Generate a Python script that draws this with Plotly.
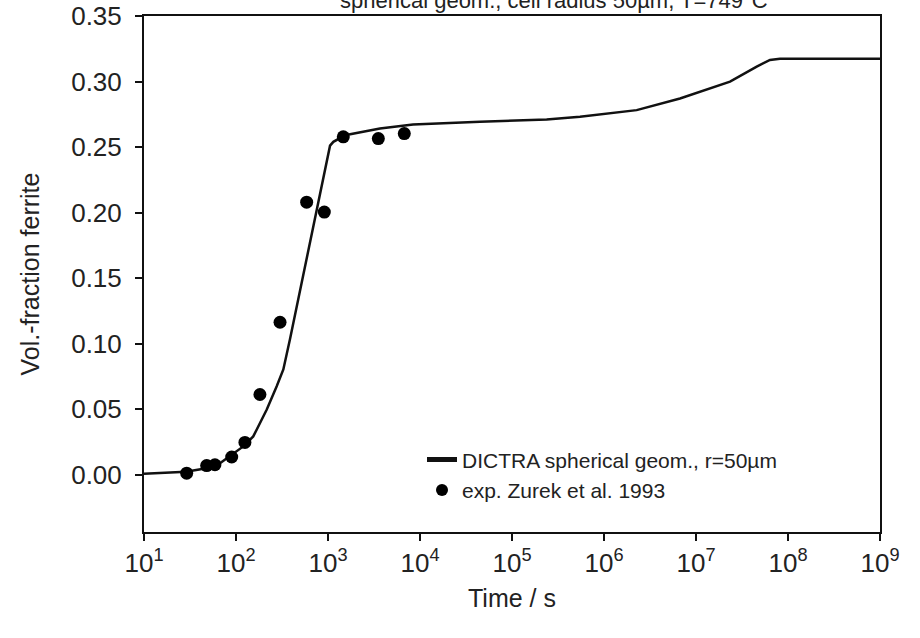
import plotly.graph_objects as go

# DICTRA simulation: time (s) vs. ferrite volume fraction
sim_time = [10, 28.6, 59.2, 120, 154, 216, 277, 327, 386, 1052, 1143, 1531,
            3673, 8395, 44870, 238000, 548000, 2265000, 6700000, 23440000,
            45700000, 63680000, 81850000, 1e9]
sim_frac = [0.0008, 0.0023, 0.0061, 0.0217, 0.0293, 0.0498, 0.0676, 0.0804,
            0.1034, 0.2511, 0.2540, 0.2590, 0.2642, 0.2672, 0.2693, 0.2711,
            0.2731, 0.2782, 0.2871, 0.2999, 0.3114, 0.3165, 0.3174, 0.3174]

# Measured ferrite fraction (Zurek et al. 1993)
exp_time = [29.1, 48, 59, 89.8, 125, 182, 301, 586, 912, 1466, 3524, 6748]
exp_frac = [0.0013, 0.0071, 0.0077, 0.0136, 0.0247, 0.0613, 0.1164, 0.208,
            0.2004, 0.2578, 0.2565, 0.2603]

x_tickvals = [1e1, 1e2, 1e3, 1e4, 1e5, 1e6, 1e7, 1e8, 1e9]
x_ticktext = ["10<sup>1</sup>", "10<sup>2</sup>", "10<sup>3</sup>", "10<sup>4</sup>",
              "10<sup>5</sup>", "10<sup>6</sup>", "10<sup>7</sup>", "10<sup>8</sup>",
              "10<sup>9</sup>"]
y_tickvals = [0.00, 0.05, 0.10, 0.15, 0.20, 0.25, 0.30, 0.35]

FONT = "Liberation Sans, Arial, sans-serif"
INK = "#222222"

fig = go.Figure()
fig.add_trace(go.Scatter(
    x=sim_time, y=sim_frac, mode="lines",
    line=dict(color="#111111", width=2.5),
    name="DICTRA spherical geom., r=50\u00b5m",
))
fig.add_trace(go.Scatter(
    x=exp_time, y=exp_frac, mode="markers",
    marker=dict(color="#000000", size=13),
    name="exp. Zurek et al. 1993",
))

fig.update_layout(
    width=920, height=638,
    margin=dict(l=144, r=40, t=16, b=106, autoexpand=False),
    paper_bgcolor="white", plot_bgcolor="white",
    font=dict(family=FONT, size=26, color=INK),
    showlegend=True,
    legend=dict(
        x=(422 - 144) / 736, y=(0.0436 + 0.027) / 0.3936,
        xanchor="left", yanchor="top",
        bgcolor="rgba(0,0,0,0)", borderwidth=0,
        font=dict(family=FONT, size=21, color=INK),
        tracegroupgap=0, itemsizing="constant",
    ),
    annotations=[dict(
        text="spherical geom., cell radius 50\u00b5m, T=749\u00b0C",
        xref="paper", yref="paper", x=(554 - 144) / 736, y=1 + 15 / 516,
        xanchor="center", yanchor="middle", showarrow=False,
        font=dict(family=FONT, size=22, color=INK),
    )],
)

fig.update_xaxes(
    type="log", range=[1, 9], automargin=False,
    tickvals=x_tickvals, ticktext=x_ticktext,
    ticks="outside", ticklen=7, tickwidth=1.5, tickcolor="#111111",
    showline=True, linecolor="#111111", linewidth=2, mirror=True,
    showgrid=False, zeroline=False,
    title=dict(text="Time / s", standoff=12, font=dict(size=25)),
)
fig.update_yaxes(
    range=[-0.0436, 0.35], automargin=False,
    tickvals=y_tickvals, tickformat=".2f",
    ticks="outside", ticklen=7, tickwidth=1.5, tickcolor="#111111",
    ticklabelstandoff=8,
    showline=True, linecolor="#111111", linewidth=2, mirror=True,
    showgrid=False, zeroline=False,
    title=dict(text="Vol.-fraction ferrite", standoff=24, font=dict(size=25)),
)

fig.write_html("out.html")
